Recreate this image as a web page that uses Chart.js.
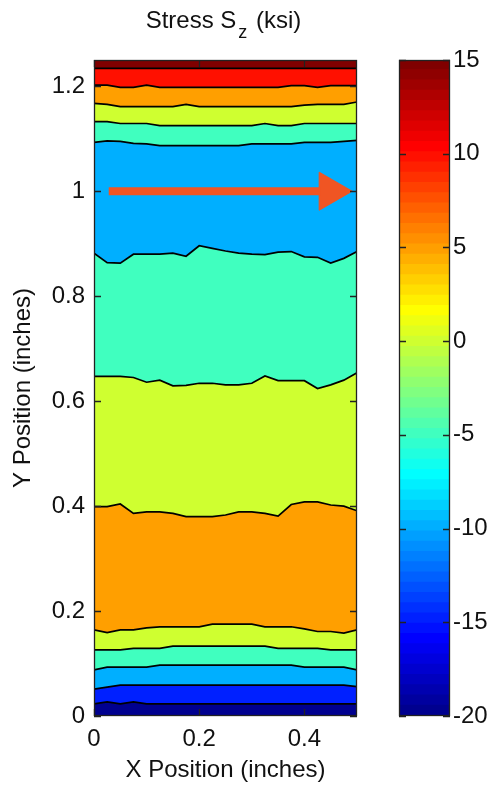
<!DOCTYPE html>
<html>
<head>
<meta charset="utf-8">
<script src="https://cdn.jsdelivr.net/npm/chart.js@4"></script>
<style>
  body { margin: 0; background: #fff; }
  #wrap { position: relative; width: 489px; height: 788px; }
  canvas { position: absolute; top: 0; }
</style>
</head>
<body>
<div id="wrap">
  <canvas id="contourChart" width="380" height="788" style="left:0"></canvas>
  <canvas id="barChart" width="109" height="788" style="left:380px"></canvas>
</div>
<script>
// x positions where the contour lines were read (inches)
const xs = [0, 0.025, 0.05, 0.075, 0.1, 0.125, 0.15, 0.175, 0.2, 0.225, 0.25, 0.275, 0.3, 0.325, 0.35, 0.375, 0.4, 0.425, 0.45, 0.475, 0.5];

// contour lines, bottom to top (y in inches)
const cM15a = [0.023, 0.027, 0.023, 0.027, 0.023, 0.023, 0.023, 0.023, 0.023, 0.023, 0.023, 0.023, 0.023, 0.023, 0.023, 0.023, 0.023, 0.023, 0.023, 0.023, 0.023];
const cM10a = [0.051, 0.055, 0.059, 0.059, 0.059, 0.059, 0.059, 0.059, 0.059, 0.059, 0.059, 0.059, 0.059, 0.059, 0.059, 0.059, 0.059, 0.059, 0.059, 0.059, 0.056];
const cM5a = [0.088, 0.093, 0.093, 0.093, 0.093, 0.097, 0.097, 0.097, 0.097, 0.097, 0.097, 0.097, 0.097, 0.097, 0.097, 0.097, 0.093, 0.093, 0.093, 0.093, 0.088];
const c0a = [0.126, 0.126, 0.126, 0.129, 0.129, 0.129, 0.133, 0.133, 0.133, 0.133, 0.133, 0.133, 0.133, 0.133, 0.129, 0.129, 0.129, 0.129, 0.126, 0.126, 0.126];
const c5a = [0.164, 0.159, 0.164, 0.164, 0.168, 0.170, 0.170, 0.170, 0.170, 0.175, 0.175, 0.175, 0.175, 0.170, 0.170, 0.170, 0.166, 0.161, 0.161, 0.158, 0.164];
const c5b = [0.399, 0.399, 0.404, 0.386, 0.389, 0.389, 0.386, 0.380, 0.380, 0.380, 0.383, 0.389, 0.389, 0.386, 0.381, 0.403, 0.408, 0.408, 0.402, 0.400, 0.391];
const c0b = [0.647, 0.647, 0.647, 0.645, 0.636, 0.640, 0.629, 0.630, 0.634, 0.634, 0.631, 0.631, 0.634, 0.648, 0.639, 0.639, 0.639, 0.624, 0.631, 0.640, 0.654];
const cM5b = [0.882, 0.864, 0.863, 0.880, 0.880, 0.880, 0.882, 0.876, 0.896, 0.891, 0.886, 0.882, 0.880, 0.879, 0.884, 0.885, 0.875, 0.874, 0.863, 0.872, 0.885];
const cM5c = [1.093, 1.096, 1.095, 1.091, 1.090, 1.087, 1.087, 1.087, 1.087, 1.087, 1.087, 1.087, 1.090, 1.090, 1.090, 1.090, 1.093, 1.093, 1.093, 1.095, 1.097];
const c0c = [1.1325, 1.1325, 1.129, 1.129, 1.129, 1.125, 1.125, 1.125, 1.125, 1.125, 1.125, 1.125, 1.125, 1.129, 1.125, 1.125, 1.129, 1.129, 1.129, 1.129, 1.129];
const c5c = [1.1675, 1.1655, 1.161, 1.161, 1.161, 1.161, 1.161, 1.1655, 1.161, 1.161, 1.161, 1.161, 1.161, 1.161, 1.161, 1.161, 1.164, 1.1655, 1.1655, 1.1655, 1.170];
const c10a = [1.202, 1.202, 1.198, 1.198, 1.202, 1.198, 1.198, 1.198, 1.198, 1.198, 1.198, 1.198, 1.198, 1.198, 1.198, 1.201, 1.201, 1.198, 1.201, 1.201, 1.201];
const c15a = [1.234, 1.234, 1.234, 1.234, 1.234, 1.234, 1.234, 1.234, 1.234, 1.234, 1.234, 1.234, 1.234, 1.234, 1.234, 1.234, 1.234, 1.234, 1.234, 1.234, 1.234];

// stress level (ksi) of each filled band, bottom to top
const bandLevels = [-20, -15, -10, -5, 0, 5, 0, -5, -10, -5, 0, 5, 10, 15];

// arrow
const arrowX = [0.028, 0.43];
const arrowY = [1, 1];
const arrowHead = { x: 0.449, y: 1 };

// axes
const xMin = 0, xMax = 0.5;
const yMin = 0, yMax = 1.25;
const cbarMin = -20, cbarMax = 15;
const nColors = 64;

const titleMain = 'Stress S';
const titleSub = 'z';
const titleUnit = ' (ksi)';

const FONT = "'Liberation Sans', Arial, Helvetica, sans-serif";
const textColor = '#111';
const arrowColor = '#f05523';

// matlab jet(64), row k = 1..64
function jet(k) {
  let r, g, b;
  if (k <= 24) r = 0; else if (k <= 40) r = (k - 24) / 16; else if (k <= 56) r = 1; else r = (72 - k) / 16;
  if (k <= 8) g = 0; else if (k <= 24) g = (k - 8) / 16; else if (k <= 40) g = 1; else if (k <= 55) g = (56 - k) / 16; else g = 0;
  if (k <= 8) b = (k + 8) / 16; else if (k <= 24) b = 1; else if (k <= 39) b = (40 - k) / 16; else b = 0;
  return 'rgb(' + Math.round(r * 255) + ',' + Math.round(g * 255) + ',' + Math.round(b * 255) + ')';
}

function levelColor(v) {
  let k = Math.floor((v - cbarMin) / (cbarMax - cbarMin) * nColors) + 1;
  if (k > nColors) k = nColors;
  return jet(k);
}

function pts(ys) {
  return xs.map((x, i) => ({ x: x, y: ys[i] }));
}

// inner ticks + box, like matlab axes
const boxTicks = {
  id: 'boxTicks',
  afterDatasetsDraw(chart, args, opts) {
    const { ctx, chartArea: a } = chart;
    const len = 7;
    ctx.save();
    ctx.strokeStyle = '#222';
    ctx.lineWidth = 1.3;
    (opts.axes || []).forEach(id => {
      const s = chart.scales[id];
      s.ticks.forEach(t => {
        const p = Math.round(s.getPixelForValue(t.value)) + 0.5;
        ctx.beginPath();
        if (s.isHorizontal()) {
          ctx.moveTo(p, a.bottom); ctx.lineTo(p, a.bottom - len);
          ctx.moveTo(p, a.top); ctx.lineTo(p, a.top + len);
        } else {
          ctx.moveTo(a.left, p); ctx.lineTo(a.left + len, p);
          ctx.moveTo(a.right, p); ctx.lineTo(a.right - len, p);
        }
        ctx.stroke();
      });
    });
    ctx.strokeRect(a.left + 0.5, a.top + 0.5, a.right - a.left - 1, a.bottom - a.top - 1);
    ctx.restore();
  }
};

// title with subscript z
const szTitle = {
  id: 'szTitle',
  afterDraw(chart) {
    const { ctx, chartArea: a } = chart;
    const big = '24px ' + FONT;
    const small = '18px ' + FONT;
    ctx.save();
    ctx.fillStyle = textColor;
    ctx.textBaseline = 'alphabetic';
    ctx.textAlign = 'left';
    ctx.font = big;
    const w1 = ctx.measureText(titleMain).width;
    const w3 = ctx.measureText(titleUnit).width;
    ctx.font = small;
    const w2 = ctx.measureText(titleSub).width;
    let x = (a.left + a.right) / 2 - (w1 + w2 + w3) / 2 - 4;
    ctx.font = big;
    ctx.fillText(titleMain, x, 28);
    x += w1 + 2;
    ctx.font = small;
    ctx.fillText(titleSub, x, 38);
    x += w2 + 2;
    ctx.font = big;
    ctx.fillText(titleUnit, x, 28);
    ctx.restore();
  }
};

const contours = [cM15a, cM10a, cM5a, c0a, c5a, c5b, c0b, cM5b, cM5c, c0c, c5c, c10a, c15a];

let datasets = [];
datasets.push({ data: pts(xs.map(() => yMin)), borderWidth: 0, pointRadius: 0, fill: false });
contours.forEach((c, i) => {
  datasets.push({
    data: pts(c),
    borderColor: '#000',
    borderWidth: 1.7,
    pointRadius: 0,
    tension: 0,
    fill: '-1',
    backgroundColor: levelColor(bandLevels[i])
  });
});
datasets.push({
  data: pts(xs.map(() => yMax)),
  borderWidth: 0,
  pointRadius: 0,
  fill: '-1',
  backgroundColor: levelColor(bandLevels[bandLevels.length - 1])
});
// arrow shaft and head
datasets.push({
  data: arrowX.map((x, i) => ({ x: x, y: arrowY[i] })),
  borderColor: arrowColor,
  borderWidth: 8,
  borderCapStyle: 'butt',
  pointRadius: 0,
  fill: false
});
datasets.push({
  data: [arrowHead],
  showLine: false,
  pointStyle: 'triangle',
  pointRadius: 22,
  pointRotation: 90,
  pointBackgroundColor: arrowColor,
  pointBorderColor: arrowColor,
  pointBorderWidth: 1,
  fill: false
});

const ctx = document.getElementById('contourChart').getContext('2d');
const myChart = new Chart(ctx, {
  type: 'line',
  data: { datasets: datasets },
  options: {
    responsive: false,
    animation: false,
    layout: { padding: { top: 60, right: 20, left: 0, bottom: 0 } },
    plugins: {
      legend: { display: false },
      tooltip: { enabled: false },
      filler: { drawTime: 'beforeDatasetsDraw', propagate: false },
      boxTicks: { axes: ['x', 'y'] }
    },
    scales: {
      x: {
        type: 'linear',
        min: xMin,
        max: xMax,
        grid: { display: false, drawTicks: false },
        border: { display: false },
        ticks: {
          stepSize: 0.2,
          includeBounds: false,
          padding: 9,
          color: textColor,
          font: { family: FONT, size: 24 },
          callback: v => String(+v.toFixed(2))
        },
        title: {
          display: true,
          text: 'X Position (inches)',
          color: textColor,
          font: { family: FONT, size: 24 },
          padding: { top: 0, bottom: 3 }
        },
        afterFit: s => { s.height = 72; }
      },
      y: {
        type: 'linear',
        min: yMin,
        max: yMax,
        grid: { display: false, drawTicks: false },
        border: { display: false },
        ticks: {
          stepSize: 0.2,
          includeBounds: false,
          padding: 9,
          color: textColor,
          font: { family: FONT, size: 24 },
          callback: v => String(+v.toFixed(2))
        },
        title: {
          display: true,
          text: 'Y Position (inches)',
          color: textColor,
          font: { family: FONT, size: 24 },
          padding: { top: 9, bottom: 0 }
        },
        afterFit: s => { s.width = 94; }
      }
    }
  },
  plugins: [boxTicks, szTitle]
});

// colorbar
let barSets = [];
for (let i = 0; i < nColors; i++) {
  const lo = cbarMin + (cbarMax - cbarMin) * i / nColors;
  const hi = cbarMin + (cbarMax - cbarMin) * (i + 1) / nColors;
  barSets.push({
    data: [[lo, hi]],
    backgroundColor: jet(i + 1),
    borderWidth: 0,
    inflateAmount: 1,
    grouped: false,
    barPercentage: 1,
    categoryPercentage: 1
  });
}

const ctx2 = document.getElementById('barChart').getContext('2d');
const myChart2 = new Chart(ctx2, {
  type: 'bar',
  data: { labels: [''], datasets: barSets },
  options: {
    responsive: false,
    animation: false,
    layout: { padding: { top: 60, right: 0, left: 19, bottom: 72 } },
    plugins: {
      legend: { display: false },
      tooltip: { enabled: false },
      boxTicks: { axes: ['y'] }
    },
    scales: {
      x: { display: false },
      y: {
        position: 'right',
        min: cbarMin,
        max: cbarMax,
        grid: { display: false, drawTicks: false },
        border: { display: false },
        ticks: {
          stepSize: 5,
          padding: 3,
          color: textColor,
          font: { family: FONT, size: 24 }
        },
        afterFit: s => { s.width = 39; }
      }
    }
  },
  plugins: [boxTicks]
});
</script>
</body>
</html>
